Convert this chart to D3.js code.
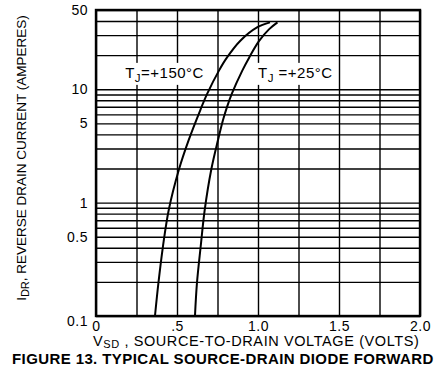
<!DOCTYPE html>
<html>
<head>
<meta charset="utf-8">
<script src="https://cdn.jsdelivr.net/npm/d3@7/dist/d3.min.js"></script>
<style>
  html, body { margin: 0; padding: 0; background: #fff; }
  svg { display: block; }
  text { font-family: "Liberation Sans", Arial, Helvetica, sans-serif; fill: #000; }
</style>
</head>
<body>
<svg id="chart" width="438" height="366"></svg>
<script>
// ---- data ----
const xTickValues = [0, 0.5, 1.0, 1.5, 2.0];
const xTickLabels = ["0", ".5", "1.0", "1.5", "2.0"];
const xGridValues = [0, 0.25, 0.5, 0.75, 1.0, 1.25, 1.5, 1.75, 2.0];
const yTickValues = [0.1, 0.5, 1, 5, 10, 50];
const yTickLabels = ["0.1", "0.5", "1", "5", "10", "50"];
const yGridValues = [0.1, 0.2, 0.3, 0.4, 0.5, 0.6, 0.7, 0.8, 0.9,
                     1, 2, 3, 4, 5, 6, 7, 8, 9, 10, 20, 30, 40, 50];
const seriesNames = ["T_J=+150°C", "T_J=+25°C"];
const vsd150 = [0.364, 0.385, 0.413, 0.449, 0.511, 0.572, 0.644, 0.686, 0.759, 0.809, 0.891, 0.994, 1.074];
const idr150 = [0.1, 0.194, 0.408, 0.861, 1.94, 3.56, 6.56, 9.1, 14.6, 19.1, 26.8, 35.1, 38.9];
const vsd25  = [0.611, 0.623, 0.646, 0.671, 0.711, 0.753, 0.784, 0.809, 0.838, 0.903, 0.946, 1.008, 1.069, 1.120];
const idr25  = [0.1, 0.194, 0.408, 0.861, 1.94, 3.56, 5.35, 7.0, 9.1, 14.6, 19.1, 26.8, 33.9, 38.9];

// ---- layout ----
const W = 438, H = 366;
const m = { left: 96, top: 10, right: 18, bottom: 50 };
const pw = W - m.left - m.right, ph = H - m.top - m.bottom;

const svg = d3.select("#chart");
const g = svg.append("g").attr("transform", `translate(${m.left},${m.top})`);

const x = d3.scaleLinear().domain([0, 2]).range([0, pw]);
const y = d3.scaleLog().domain([0.1, 50]).range([ph, 0]);

// grid via axes
g.append("g").attr("class", "xgrid")
  .call(d3.axisBottom(x).tickValues(xGridValues).tickSize(ph).tickFormat(""))
  .call(s => s.select(".domain").remove())
  .selectAll("line").attr("stroke", "#000").attr("stroke-width", 1.4);
g.append("g").attr("class", "ygrid")
  .call(d3.axisLeft(y).tickValues(yGridValues).tickSize(-pw).tickFormat(""))
  .call(s => s.select(".domain").remove())
  .selectAll("line").attr("stroke", "#000").attr("stroke-width", 1.4);

// series labels with white background
const labels = [
  { text: ["T", "J", "=+150°C"], v: 0.18, i: 12.6 },
  { text: ["T", "J", " =+25°C"], v: 1.0, i: 12.6 }
];
const lg = g.append("g").attr("class", "labels");
labels.forEach(d => {
  const t = lg.append("text")
    .attr("x", x(d.v)).attr("y", y(d.i))
    .attr("font-size", 15).attr("letter-spacing", 0.5);
  t.append("tspan").text(d.text[0]);
  t.append("tspan").attr("dy", 4).attr("font-size", 11.5).text(d.text[1]);
  t.append("tspan").attr("dy", -4).text(d.text[2]);
  const bb = t.node().getBBox();
  lg.insert("rect", () => t.node())
    .attr("x", bb.x - 3).attr("y", bb.y - 1)
    .attr("width", bb.width + 6).attr("height", bb.height + 2)
    .attr("fill", "#fff");
});

// curves
const line = d3.line()
  .x(d => x(d[0])).y(d => y(d[1]))
  .curve(d3.curveCatmullRom.alpha(0.5));
[[vsd150, idr150], [vsd25, idr25]].forEach(([vs, is]) => {
  g.append("path")
    .datum(vs.map((v, k) => [v, is[k]]))
    .attr("fill", "none").attr("stroke", "#000").attr("stroke-width", 2)
    .attr("d", line);
});

// frame
g.append("rect").attr("width", pw).attr("height", ph)
  .attr("fill", "none").attr("stroke", "#000").attr("stroke-width", 2.4);

// tick labels through axes
const ya = g.append("g")
  .call(d3.axisLeft(y).tickValues(yTickValues).tickSize(0).tickPadding(8)
    .tickFormat((d, k) => yTickLabels[k]));
ya.select(".domain").remove();
ya.selectAll("text").attr("font-size", 14).attr("font-family", null)
  .attr("letter-spacing", 0.5)
  .attr("dy", (d) => d === 0.1 ? "0.65em" : "0.32em");

const xa = g.append("g").attr("transform", `translate(0,${ph})`)
  .call(d3.axisBottom(x).tickValues(xTickValues).tickSize(0).tickPadding(5)
    .tickFormat((d, k) => xTickLabels[k]));
xa.select(".domain").remove();
xa.selectAll("text").attr("font-size", 14).attr("font-family", null)
  .attr("letter-spacing", 0.5);

// axis titles
const xt = svg.append("text").attr("x", 93).attr("y", 346)
  .attr("font-size", 14.5).attr("letter-spacing", 0.6);
xt.append("tspan").text("V");
xt.append("tspan").attr("dy", 2).attr("font-size", 11).text("SD");
xt.append("tspan").attr("dy", -2).text(" , SOURCE-TO-DRAIN VOLTAGE (VOLTS)");

const yt = svg.append("text")
  .attr("transform", "translate(26,158) rotate(-90)")
  .attr("text-anchor", "middle").attr("font-size", 13.5);
yt.append("tspan").text("I");
yt.append("tspan").attr("dy", 3).attr("font-size", 11).text("DR");
yt.append("tspan").attr("dy", -3).text(", REVERSE DRAIN CURRENT (AMPERES)");

svg.append("text").attr("x", 12).attr("y", 364)
  .attr("font-size", 15).attr("font-weight", "bold").attr("letter-spacing", 0.4)
  .text("FIGURE 13. TYPICAL SOURCE-DRAIN DIODE FORWARD");
</script>
</body>
</html>
